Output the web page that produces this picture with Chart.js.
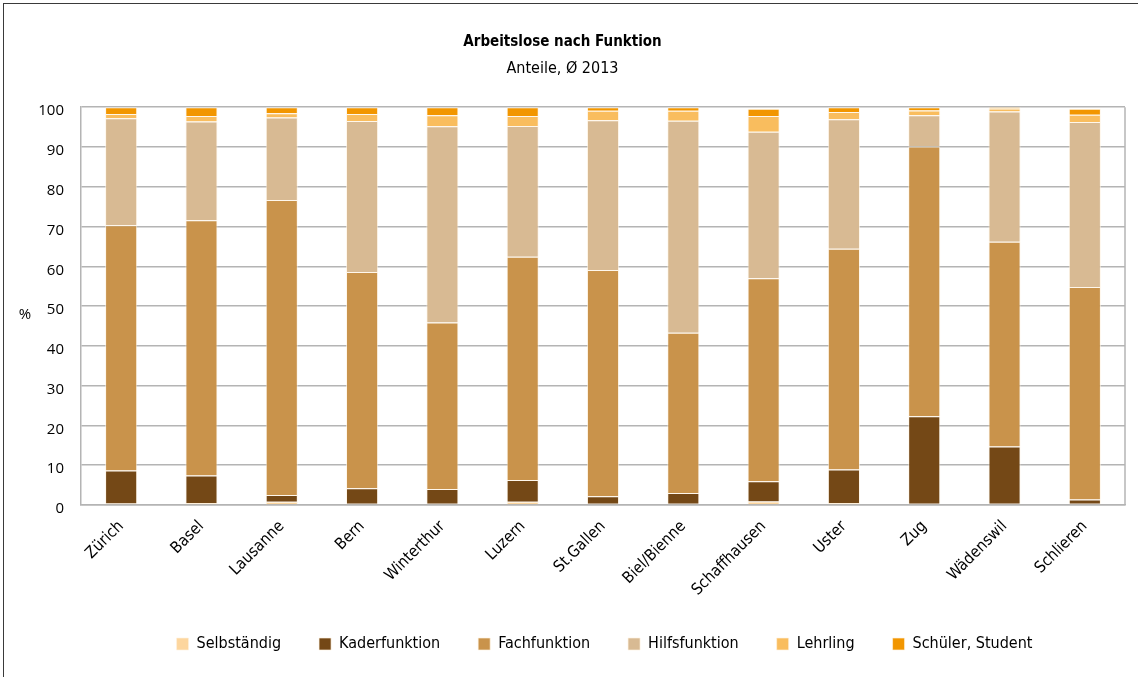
<!DOCTYPE html>
<html>
<head>
<meta charset="utf-8">
<script src="https://cdn.jsdelivr.net/npm/chart.js@4/dist/chart.umd.min.js"></script>
<style>
  html, body { margin: 0; padding: 0; background: #fff; }
  #frame {
    position: absolute; left: 3px; top: 3px; width: 1200px; height: 700px;
    border-top: 1.5px solid #3a3a3a; border-left: 1.5px solid #3a3a3a;
  }
  #wrap { position: absolute; left: 0; top: 0; width: 1138px; height: 677px; }
</style>
</head>
<body>
<div id="frame"></div>
<div id="wrap"><canvas id="c"></canvas></div>
<script>
// Arbeitslose nach Funktion, Anteile in %, Durchschnitt 2013
const cities = ['Zürich', 'Basel', 'Lausanne', 'Bern', 'Winterthur', 'Luzern', 'St.Gallen',
                'Biel/Bienne', 'Schaffhausen', 'Uster', 'Zug', 'Wädenswil', 'Schlieren'];

const selbstaendig = [0.4, 0.5, 0.8, 0.3, 0.3, 0.8, 0.3, 0.3, 0.9, 0.5, 0.3, 0.3, 0.3];
const kaderfunktion = [8.3, 6.9, 1.7, 3.9, 3.7, 5.5, 1.9, 2.7, 5.1, 8.4, 22.0, 14.4, 1.1];
const fachfunktion = [61.6, 64.2, 74.2, 54.4, 41.9, 56.1, 56.9, 40.3, 51.0, 55.5, 67.8, 51.5, 53.4];
const hilfsfunktion = [26.9, 24.8, 20.7, 37.9, 49.3, 32.9, 37.6, 53.3, 36.8, 32.6, 7.9, 32.7, 41.5];
const lehrling = [1.1, 1.4, 1.1, 1.8, 2.8, 2.5, 2.4, 2.5, 4.0, 1.8, 1.2, 0.8, 1.8];
const schueler = [1.7, 2.2, 1.5, 1.7, 2.0, 2.2, 0.9, 0.9, 1.8, 1.2, 0.8, 0.3, 1.5];

const yTicks = [0, 10, 20, 30, 40, 50, 60, 70, 80, 90, 100];

const narrow = "'Liberation Sans Narrow', 'DejaVu Sans Condensed', 'Roboto', sans-serif";
const gridGrey = '#b4b4b4';
const edge = 'rgba(255, 243, 225, 0.65)';

function series(label, data, color) {
  return { label, data, backgroundColor: color, borderColor: edge, borderWidth: 1,
           barPercentage: 0.4, categoryPercentage: 1.0 };
}

// horizontal "%" unit label, right-hand frame of the plot area, legend shifted under the plot
const extras = {
  id: 'extras',
  afterLayout(chart) {
    const lg = chart.legend;
    if (lg) { lg.left += 42; lg.right += 42; }
  },
  afterDraw(chart) {
    const { ctx, chartArea, scales } = chart;
    ctx.save();
    ctx.strokeStyle = gridGrey;
    ctx.lineWidth = 1.5;
    ctx.beginPath();
    ctx.moveTo(chartArea.right, chartArea.top);
    ctx.lineTo(chartArea.right, chartArea.bottom);
    ctx.stroke();
    ctx.fillStyle = '#000';
    ctx.font = "15px 'Open Sans', sans-serif";
    ctx.textAlign = 'center';
    ctx.textBaseline = 'middle';
    ctx.fillText('%', 25, scales.y.getPixelForValue(50) + 9);
    ctx.restore();
  }
};

new Chart(document.getElementById('c'), {
  type: 'bar',
  data: {
    labels: cities,
    datasets: [
      series('Selbständig', selbstaendig, '#fdd69e'),
      series('Kaderfunktion', kaderfunktion, '#744816'),
      series('Fachfunktion', fachfunktion, '#c9934b'),
      series('Hilfsfunktion', hilfsfunktion, '#d8ba93'),
      series('Lehrling', lehrling, '#f9bd5e'),
      series('Schüler, Student', schueler, '#f29600')
    ]
  },
  options: {
    responsive: true,
    maintainAspectRatio: false,
    animation: false,
    layout: { padding: { left: 0, right: 13, top: 0, bottom: 15 } },
    plugins: {
      title: {
        display: true, text: 'Arbeitslose nach Funktion', color: '#000',
        font: { family: narrow, size: 15, weight: 'bold' },
        padding: { top: 33, bottom: 8 }
      },
      subtitle: {
        display: true, text: 'Anteile, Ø 2013', color: '#000',
        font: { family: narrow, size: 16 },
        padding: { top: 0, bottom: 29 }
      },
      legend: {
        position: 'bottom',
        labels: {
          color: '#000', boxWidth: 12, boxHeight: 12, padding: 38,
          font: { family: narrow, size: 16 }
        }
      },
      tooltip: { enabled: false }
    },
    scales: {
      x: {
        stacked: true,
        grid: { display: false },
        border: { color: gridGrey, width: 1.5 },
        ticks: {
          color: '#000', maxRotation: 45, minRotation: 45, padding: 4,
          font: { family: narrow, size: 16 }
        },
        afterFit(scale) { scale.height = 93; }
      },
      y: {
        stacked: true,
        min: 0, max: 100,
        afterBuildTicks(scale) { scale.ticks = yTicks.map(v => ({ value: v })); },
        grid: { color: gridGrey, lineWidth: 1.5, drawTicks: false },
        border: { color: gridGrey, width: 1.5 },
        ticks: {
          color: '#000', padding: 17, labelOffset: 4,
          font: { family: "'Open Sans', sans-serif", size: 15 }
        },
        afterFit(scale) { scale.width = 81; }
      }
    }
  },
  plugins: [extras]
});
</script>
</body>
</html>
